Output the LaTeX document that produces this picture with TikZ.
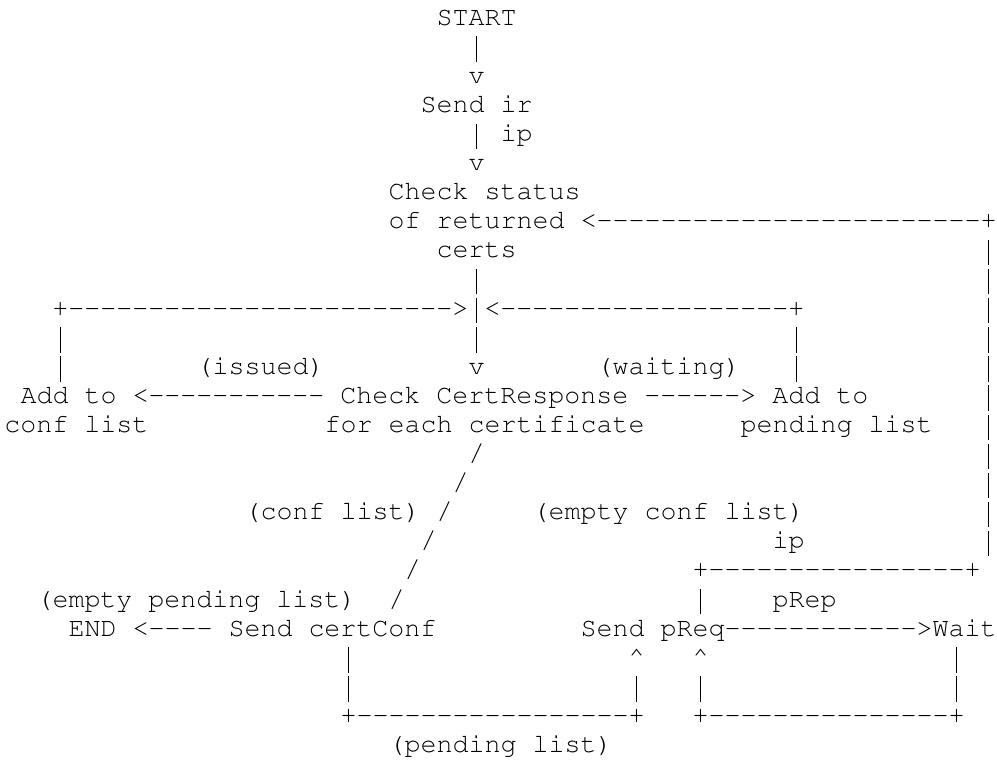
\documentclass[tikz,border=0pt]{standalone}
\usepackage[T1]{fontenc}
\tikzset{
  asc/.style={anchor=base west, inner sep=0pt, outer sep=0pt,
    font=\fontfamily{pcr}\fontseries{m}\fontshape{n}\fontsize{20}{22}\selectfont}
}
% \T{name}{column}{line}{text}
\newcommand{\T}[4]{\node[asc] (#1) at ({4.5+16*#2},{25+29.1*(#3-1)}) {#4};}
\newcommand{\caret}{\textasciicircum}
\newcommand{\dd}[1]{\foreach\i in {1,...,#1}{-}}
% tall vertical bar, one character cell wide, as Courier New draws it
\newcommand{\vb}{\makebox[12pt]{\rule[-5.6pt]{1pt}{19pt}}}
\begin{document}
\begin{tikzpicture}[x=0.75pt,y=-0.75pt]
\useasboundingbox (0,0) rectangle (997,769);
\T{start}{27}{1}{START}
\T{v1a}{29}{2}{\vb}
\T{v1b}{29}{3}{v}
\T{sendir}{26}{4}{Send ir}
\T{ip1}{29}{5}{\vb{} ip}
\T{v2}{29}{6}{v}
\T{check1}{24}{7}{Check status}
\T{check2}{24}{8}{of returned <\dd{24}+}
\T{check3}{27}{9}{certs}
\T{r9}{61}{9}{\vb}
\T{c10}{29}{10}{\vb}
\T{r10}{61}{10}{\vb}
\T{join}{3}{11}{+\dd{24}>\vb<\dd{18}+}
\T{r11}{61}{11}{\vb}
\T{l12}{3}{12}{\vb}
\T{c12}{29}{12}{\vb}
\T{m12}{49}{12}{\vb}
\T{r12}{61}{12}{\vb}
\T{l13}{3}{13}{\vb}
\T{issued}{12}{13}{(issued)}
\T{c13}{29}{13}{v}
\T{waiting}{37}{13}{(waiting)}
\T{m13}{49}{13}{\vb}
\T{r13}{61}{13}{\vb}
\T{row14}{1}{14}{Add to <\dd{11} Check CertResponse \dd{6}> Add to}
\T{r14}{61}{14}{\vb}
\T{conf}{0}{15}{conf list}
\T{foreach}{20}{15}{for each certificate}
\T{pending}{46}{15}{pending list}
\T{r15}{61}{15}{\vb}
\T{s16}{29}{16}{/}
\T{r16}{61}{16}{\vb}
\T{s17}{28}{17}{/}
\T{r17}{61}{17}{\vb}
\T{conflist}{15}{18}{(conf list) /}
\T{emptyconf}{33}{18}{(empty conf list)}
\T{r18}{61}{18}{\vb}
\T{s19}{26}{19}{/}
\T{ip2}{48}{19}{ip}
\T{r19}{61}{19}{\vb}
\T{s20}{25}{20}{/}
\T{box20}{43}{20}{+\dd{16}+}
\T{emptypend}{2}{21}{(empty pending list)}
\T{s21}{24}{21}{/}
\T{b21}{43}{21}{\vb}
\T{prep}{48}{21}{pRep}
\T{endrow}{4}{22}{END <\dd{4} Send certConf}
\T{preq}{36}{22}{Send pReq\dd{12}>Wait}
\T{a23}{21}{23}{\vb}
\T{b23}{39}{23}{\caret}
\T{c23}{43}{23}{\caret}
\T{d23}{59}{23}{\vb}
\T{a24}{21}{24}{\vb}
\T{b24}{39}{24}{\vb}
\T{c24}{43}{24}{\vb}
\T{d24}{59}{24}{\vb}
\T{loop1}{21}{25}{+\dd{17}+}
\T{loop2}{43}{25}{+\dd{15}+}
\T{pendlist}{24}{26}{(pending list)}
\end{tikzpicture}
\end{document}
